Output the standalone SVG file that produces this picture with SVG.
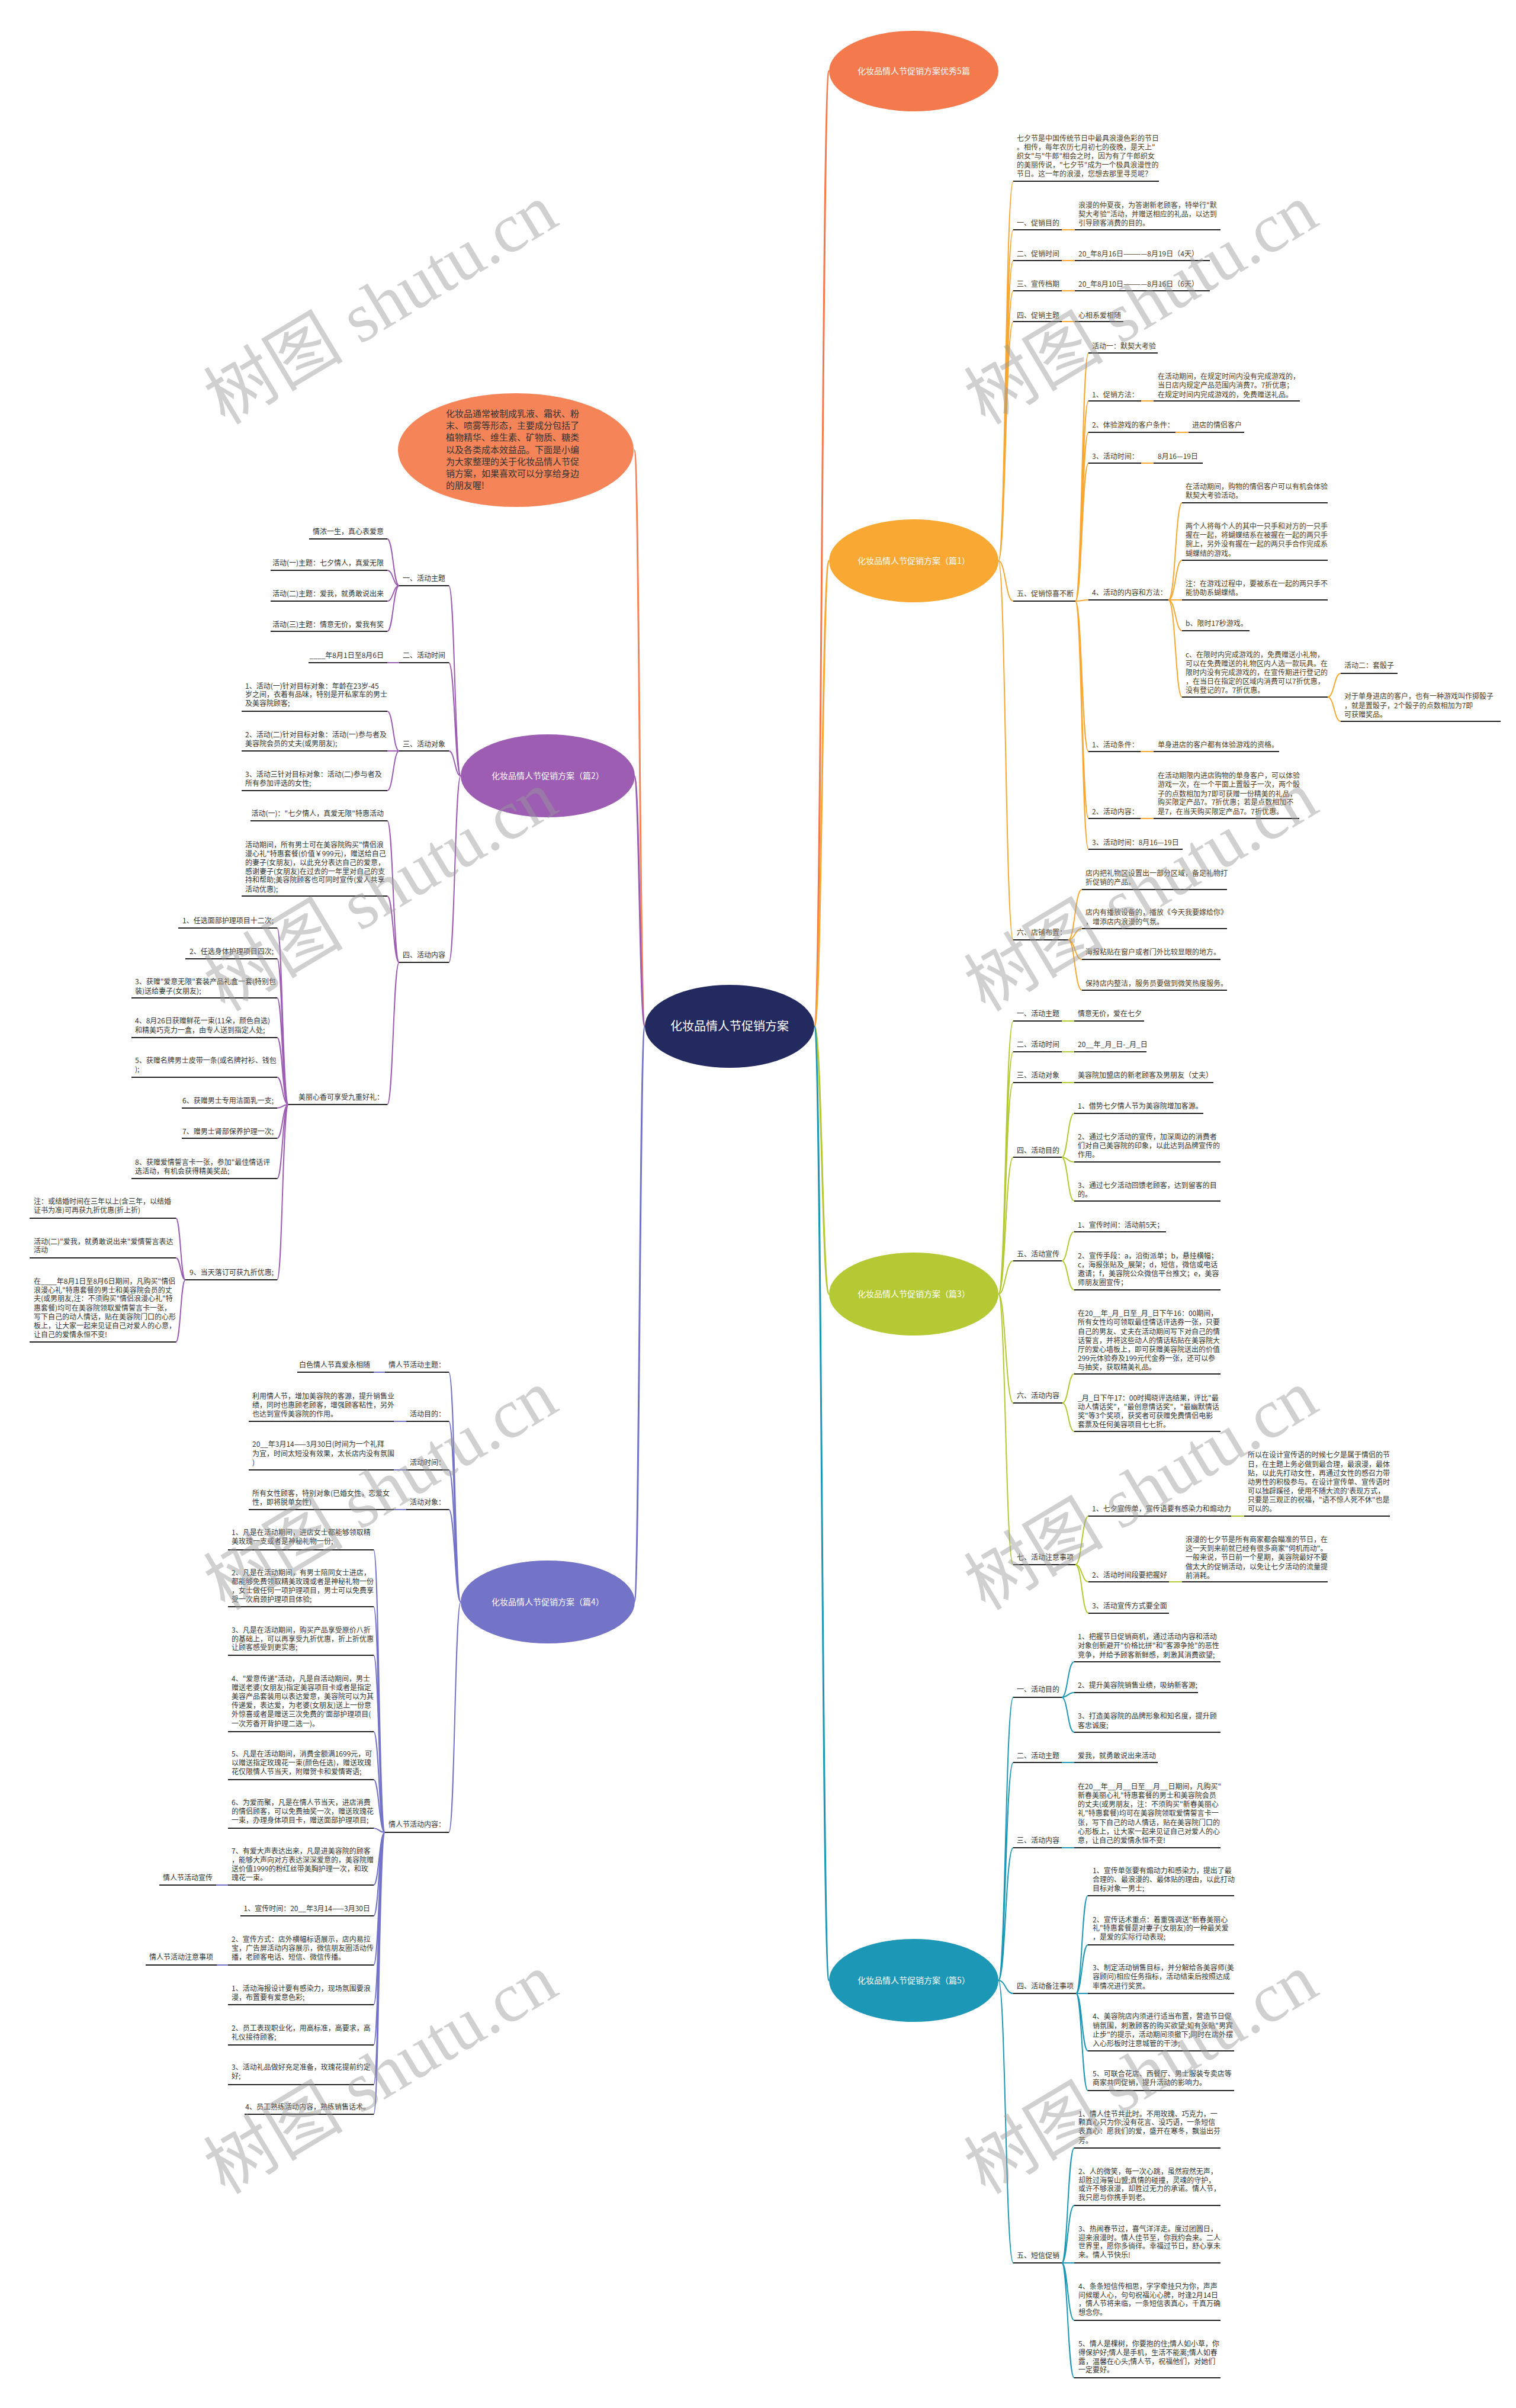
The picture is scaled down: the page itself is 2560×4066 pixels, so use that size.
<svg xmlns="http://www.w3.org/2000/svg" width="2560" height="4066" viewBox="0 0 2560 4066">
<style>
text{font-family:"Noto Sans CJK SC","Noto Sans",sans-serif}
.t{font-size:12px;fill:#333}
.y{fill:#4d3b1f}
.e{text-anchor:end}
.u{stroke:#222;stroke-width:2;fill:none}
.c{fill:none;stroke-width:2}
.rc{fill:none;stroke-width:3}
.o{stroke:#F8A832}
.g{stroke:#B5C934}
.b{stroke:#1D97B6}
.p{stroke:#9C5DB3}
.v{stroke:#7373C7}
.r{stroke:#F47A4E}
.q{stroke:#F58459}
.n{font-size:14px;fill:#fff;text-anchor:middle}
.wm{font-family:"Liberation Serif","Noto Sans CJK SC",serif;font-size:118px;fill:#999;opacity:.45;text-anchor:middle}
</style>
<rect width="2560" height="4066" fill="#fff"/>
<g id="connectors">
<path class="rc q" d="M1089 1733C1080 1733 1080 760 1071 760"/>
<path class="rc p" d="M1089 1733C1080 1733 1080 1310 1071 1310"/>
<path class="rc v" d="M1089 1733C1080 1733 1080 2705 1071 2705"/>
<path class="rc r" d="M1375 1733C1388 1733 1388 120 1400 120"/>
<path class="rc o" d="M1375 1733C1388 1733 1388 947 1400 947"/>
<path class="rc g" d="M1375 1733C1388 1733 1388 2185 1400 2185"/>
<path class="rc b" d="M1375 1733C1388 1733 1388 3344 1400 3344"/>
<path class="c o" d="M1686 947C1698 947 1698 306 1711 306M1686 947C1698 947 1698 388 1711 388M1686 947C1698 947 1698 440 1711 440M1686 947C1698 947 1698 491 1711 491M1686 947C1698 947 1698 543 1711 543M1686 947C1698 947 1698 1015 1711 1015M1686 947C1698 947 1698 1587 1711 1587M1793 388H1815M1793 440H1815M1793 491H1815M1793 543H1815M1816 1015C1827 1015 1827 596 1838 596M1816 1015C1827 1015 1827 677 1838 677M1816 1015C1827 1015 1827 730 1838 730M1816 1015C1827 1015 1827 782 1838 782M1816 1015C1827 1015 1827 1013 1838 1013M1816 1015C1827 1015 1827 1269 1838 1269M1816 1015C1827 1015 1827 1382 1838 1382M1816 1015C1827 1015 1827 1434 1838 1434M1927 677H1948M1985 730H2007M1927 782H1948M1926 1269H1948M1926 1382H1948M1973 1013C1985 1013 1985 849 1996 849M1973 1013C1985 1013 1985 946 1996 946M1973 1013H1996M1973 1013C1985 1013 1985 1065 1996 1065M1973 1013C1985 1013 1985 1177 1996 1177M2242 1177C2253 1177 2253 1137 2264 1137M2242 1177C2253 1177 2253 1218 2264 1218M1804 1587C1815 1587 1815 1502 1827 1502M1804 1587C1815 1587 1815 1568 1827 1568M1804 1587C1815 1587 1815 1620 1827 1620M1804 1587C1815 1587 1815 1672 1827 1672"/>
<path class="c g" d="M1686 2185C1698 2185 1698 1724 1711 1724M1686 2185C1698 2185 1698 1776 1711 1776M1686 2185C1698 2185 1698 1828 1711 1828M1686 2185C1698 2185 1698 1954 1711 1954M1686 2185C1698 2185 1698 2129 1711 2129M1686 2185C1698 2185 1698 2369 1711 2369M1686 2185C1698 2185 1698 2642 1711 2642M1793 1724H1814M1793 1776H1814M1793 1828H1814M1793 1954C1803 1954 1803 1880 1814 1880M1793 1954C1803 1954 1803 1962 1814 1962M1793 1954C1803 1954 1803 2028 1814 2028M1793 2129C1803 2129 1803 2080 1814 2080M1793 2129C1803 2129 1803 2178 1814 2178M1794 2369C1804 2369 1804 2320 1814 2320M1794 2369C1804 2369 1804 2417 1814 2417M1816 2642C1827 2642 1827 2560 1838 2560M1816 2642C1827 2642 1827 2671 1838 2671M1816 2642C1827 2642 1827 2724 1838 2724M2079 2560H2101M1974 2671H1996"/>
<path class="c b" d="M1686 3344C1698 3344 1698 2866 1711 2866M1686 3344C1698 3344 1698 2976 1711 2976M1686 3344C1698 3344 1698 3120 1711 3120M1686 3344C1698 3344 1698 3366 1711 3366M1686 3344C1698 3344 1698 3821 1711 3821M1793 2866C1803 2866 1803 2806 1814 2806M1793 2866C1803 2866 1803 2858 1814 2858M1793 2866C1803 2866 1803 2925 1814 2925M1793 2976H1814M1793 3120H1814M1817 3366C1827 3366 1827 3201 1837 3201M1817 3366C1827 3366 1827 3284 1837 3284M1817 3366H1837M1817 3366C1827 3366 1827 3463 1837 3463M1817 3366C1827 3366 1827 3530 1837 3530M1793 3821C1803 3821 1803 3627 1814 3627M1793 3821C1803 3821 1803 3724 1814 3724M1793 3821H1814M1793 3821C1803 3821 1803 3918 1814 3918M1793 3821C1803 3821 1803 4015 1814 4015"/>
<path class="c p" d="M778 1310C768 1310 768 989 758 989M778 1310C768 1310 768 1119 758 1119M778 1310C768 1310 768 1268 758 1268M778 1310C768 1310 768 1625 758 1625M674 989C664 989 664 910 654 910M674 989C664 989 664 963 654 963M674 989C664 989 664 1015 654 1015M674 989C664 989 664 1066 654 1066M654 1119H674M674 1268C664 1268 664 1201 654 1201M674 1268H654M674 1268C664 1268 664 1335 654 1335M674 1625C664 1625 664 1386 654 1386M674 1625C664 1625 664 1513 654 1513M674 1625C664 1625 664 1865 654 1865M487 1865C477 1865 477 1567 468 1567M487 1865C477 1865 477 1619 468 1619M487 1865C477 1865 477 1685 468 1685M487 1865C477 1865 477 1752 468 1752M487 1865C477 1865 477 1819 468 1819M487 1865C477 1865 477 1871 468 1871M487 1865C477 1865 477 1922 468 1922M487 1865C477 1865 477 1990 468 1990M487 1865C477 1865 477 2161 468 2161M313 2161C305 2161 305 2057 297 2057M313 2161C305 2161 305 2124 297 2124M313 2161C305 2161 305 2266 297 2266"/>
<path class="c v" d="M778 2705C768 2705 768 2317 758 2317M778 2705C768 2705 768 2400 758 2400M778 2705C768 2705 768 2482 758 2482M778 2705C768 2705 768 2549 758 2549M778 2705C768 2705 768 3094 758 3094M631 2317H650M665 2400H686M665 2482H686M665 2549H686M650 3094C640 3094 640 2617 631 2617M650 3094C640 3094 640 2713 631 2713M650 3094C640 3094 640 2795 631 2795M650 3094C640 3094 640 2924 631 2924M650 3094C640 3094 640 3005 631 3005M650 3094C640 3094 640 3087 631 3087M650 3094C640 3094 640 3183 631 3183M650 3094C640 3094 640 3235 631 3235M650 3094C640 3094 640 3318 631 3318M650 3094C640 3094 640 3385 631 3385M650 3094C640 3094 640 3453 631 3453M650 3094C640 3094 640 3520 631 3520M650 3094C640 3094 640 3570 631 3570M365 3183H385M366 3318H385"/>
</g>
<g id="root"><ellipse cx="1232" cy="1733" rx="143" ry="70" fill="#222a5f"/><text class="n" x="1232" y="1740" style="font-size:20px">化妆品情人节促销方案</text></g>
<g id="top"><ellipse cx="1543" cy="120" rx="143" ry="68" fill="#F47A4E"/><text class="n" x="1543" y="125">化妆品情人节促销方案优秀5篇</text></g>
<g id="p1"><ellipse cx="1543" cy="947" rx="143" ry="70" fill="#F9A933"/><text class="n" x="1543" y="952">化妆品情人节促销方案（篇1）</text></g>
<g id="p2"><ellipse cx="925" cy="1310" rx="147" ry="70" fill="#9C5DB3"/><text class="n" x="925" y="1315">化妆品情人节促销方案（篇2）</text></g>
<g id="p3"><ellipse cx="1543" cy="2185" rx="143" ry="70" fill="#B5C934"/><text class="n" x="1543" y="2190">化妆品情人节促销方案（篇3）</text></g>
<g id="p4"><ellipse cx="925" cy="2705" rx="147" ry="70" fill="#7373C7"/><text class="n" x="925" y="2710">化妆品情人节促销方案（篇4）</text></g>
<g id="p5"><ellipse cx="1543" cy="3344" rx="143" ry="70" fill="#1D97B6"/><text class="n" x="1543" y="3349">化妆品情人节促销方案（篇5）</text></g>
<g id="bubble"><ellipse cx="871" cy="760" rx="199" ry="96" fill="#F58459"/><text style="font-size:15px;fill:#333"><tspan x="753" y="704">化妆品通常被制成乳液、霜状、粉</tspan><tspan x="753" y="724">末、喷雾等形态，主要成分包括了</tspan><tspan x="753" y="744">植物精华、维生素、矿物质、糖类</tspan><tspan x="753" y="765">以及各类成本效益品。下面是小编</tspan><tspan x="753" y="785">为大家整理的关于化妆品情人节促</tspan><tspan x="753" y="805">销方案，如果喜欢可以分享给身边</tspan><tspan x="753" y="825">的朋友喔!</tspan></text></g>

<g id="n1-intro"><text class="t y"><tspan x="1717" y="237.5">七夕节是中国传统节日中最具浪漫色彩的节日</tspan><tspan x="1717" y="252.5">。相传，每年农历七月初七的夜晚，是天上"</tspan><tspan x="1717" y="267.5">织女"与"牛郎"相会之时，因为有了牛郎织女</tspan><tspan x="1717" y="282.5">的美丽传说，"七夕节"成为一个极具浪漫性的</tspan><tspan x="1717" y="297.5">节日。这一年的浪漫，您想去那里寻觅呢？</tspan></text><path class="u" d="M1711 306H1957"/></g>
<g id="n1-a"><text class="t y" x="1717" y="380.5">一、促销目的</text><path class="u" d="M1711 388H1793"/></g>
<g id="n1-a1"><text class="t y"><tspan x="1821" y="350.5">浪漫的仲夏夜，为答谢新老顾客，特举行"默</tspan><tspan x="1821" y="365.5">契大考验"活动，并赠送相应的礼品，以达到</tspan><tspan x="1821" y="380.5">引导顾客消费的目的。</tspan></text><path class="u" d="M1815 388H2061"/></g>
<g id="n1-b"><text class="t y" x="1717" y="432.5">二、促销时间</text><path class="u" d="M1711 440H1793"/></g>
<g id="n1-b1"><text class="t y" x="1821" y="432.5">20_年8月16日————8月19日（4天）</text><path class="u" d="M1815 440H2043"/></g>
<g id="n1-c"><text class="t y" x="1717" y="483.5">三、宣传档期</text><path class="u" d="M1711 491H1793"/></g>
<g id="n1-c1"><text class="t y" x="1821" y="483.5">20_年8月10日————8月16日（6天）</text><path class="u" d="M1815 491H2043"/></g>
<g id="n1-d"><text class="t y" x="1717" y="536.5">四、促销主题</text><path class="u" d="M1711 543H1793"/></g>
<g id="n1-d1"><text class="t y" x="1821" y="536.5">心相系爱相随</text><path class="u" d="M1815 543H1897"/></g>
<g id="n1-e"><text class="t y" x="1717" y="1006.5">五、促销惊喜不断</text><path class="u" d="M1711 1015H1816"/></g>
<g id="n1-e1"><text class="t y" x="1844" y="588.5">活动一：默契大考验</text><path class="u" d="M1838 596H1955"/></g>
<g id="n1-e2"><text class="t y" x="1844" y="670.5">1、促销方法：</text><path class="u" d="M1838 677H1927"/></g>
<g id="n1-e2a"><text class="t y"><tspan x="1955" y="639.5">在活动期间，在规定时间内没有完成游戏的，</tspan><tspan x="1955" y="654.5">当日店内规定产品范围内消费7。7折优惠；</tspan><tspan x="1955" y="670.5">在规定时间内完成游戏的，免费赠送礼品。</tspan></text><path class="u" d="M1948 677H2195"/></g>
<g id="n1-e3"><text class="t y" x="1844" y="721.5">2、体验游戏的客户条件：</text><path class="u" d="M1838 730H1985"/></g>
<g id="n1-e3a"><text class="t y" x="2013" y="721.5">进店的情侣客户</text><path class="u" d="M2007 730H2101"/></g>
<g id="n1-e4"><text class="t y" x="1844" y="774.5">3、活动时间：</text><path class="u" d="M1838 782H1927"/></g>
<g id="n1-e4a"><text class="t y" x="1955" y="774.5">8月16—19日</text><path class="u" d="M1948 782H2031"/></g>
<g id="n1-e5"><text class="t y" x="1844" y="1004.5">4、活动的内容和方法：</text><path class="u" d="M1838 1013H1973"/></g>
<g id="n1-e5a"><text class="t y"><tspan x="2002" y="825.5">在活动期间，购物的情侣客户可以有机会体验</tspan><tspan x="2002" y="840.5">默契大考验活动。</tspan></text><path class="u" d="M1996 849H2242"/></g>
<g id="n1-e5b"><text class="t y"><tspan x="2002" y="892.5">两个人将每个人的其中一只手和对方的一只手</tspan><tspan x="2002" y="907.5">握在一起，将蝴蝶结系在被握在一起的两只手</tspan><tspan x="2002" y="922.5">腕上，另外没有握在一起的两只手合作完成系</tspan><tspan x="2002" y="938.5">蝴蝶结的游戏。</tspan></text><path class="u" d="M1996 946H2242"/></g>
<g id="n1-e5c"><text class="t y"><tspan x="2002" y="989.5">注：在游戏过程中，要被系在一起的两只手不</tspan><tspan x="2002" y="1004.5">能协助系蝴蝶结。</tspan></text><path class="u" d="M1996 1013H2242"/></g>
<g id="n1-e5d"><text class="t y" x="2002" y="1056.5">b、限时17秒游戏。</text><path class="u" d="M1996 1065H2110"/></g>
<g id="n1-e5e"><text class="t y"><tspan x="2002" y="1109.5">c、在限时内完成游戏的，免费赠送小礼物，</tspan><tspan x="2002" y="1124.5">可以在免费赠送的礼物区内人选一款玩具。在</tspan><tspan x="2002" y="1139.5">限时内没有完成游戏的，在宣传期进行登记的</tspan><tspan x="2002" y="1154.5">，在当日在指定的区域内消费可以7折优惠，</tspan><tspan x="2002" y="1169.5">没有登记的7。7折优惠。</tspan></text><path class="u" d="M1996 1177H2242"/></g>
<g id="n1-e5e1"><text class="t y" x="2270" y="1127.5">活动二：套骰子</text><path class="u" d="M2264 1137H2360"/></g>
<g id="n1-e5e2"><text class="t y"><tspan x="2270" y="1179.5">对于单身进店的客户，也有一种游戏叫作掷骰子</tspan><tspan x="2270" y="1195.5">，就是置骰子，2个骰子的点数相加为7即</tspan><tspan x="2270" y="1210.5">可获赠奖品。</tspan></text><path class="u" d="M2264 1218H2534"/></g>
<g id="n1-e6"><text class="t y" x="1844" y="1261.5">1、活动条件：</text><path class="u" d="M1838 1269H1926"/></g>
<g id="n1-e6a"><text class="t y" x="1955" y="1261.5">单身进店的客户都有体验游戏的资格。</text><path class="u" d="M1948 1269H2160"/></g>
<g id="n1-e7"><text class="t y" x="1844" y="1374.5">2、活动内容：</text><path class="u" d="M1838 1382H1926"/></g>
<g id="n1-e7a"><text class="t y"><tspan x="1955" y="1313.5">在活动期限内进店购物的单身客户，可以体验</tspan><tspan x="1955" y="1328.5">游戏一次，在一个平面上置骰子一次，两个骰</tspan><tspan x="1955" y="1344.5">子的点数相加为7即可获赠一份精美的礼品，</tspan><tspan x="1955" y="1358.5">购买限定产品7。7折优惠；若是点数相加不</tspan><tspan x="1955" y="1374.5">是7，在当天购买限定产品7。7折优惠。</tspan></text><path class="u" d="M1948 1382H2194"/></g>
<g id="n1-e8"><text class="t y" x="1844" y="1426.5">3、活动时间：8月16—19日</text><path class="u" d="M1838 1434H1997"/></g>
<g id="n1-f"><text class="t y" x="1717" y="1578.5">六、店铺布置：</text><path class="u" d="M1711 1587H1804"/></g>
<g id="n1-f1"><text class="t y"><tspan x="1833" y="1478.5">店内把礼物区设置出一部分区域，备足礼物打</tspan><tspan x="1833" y="1493.5">折促销的产品。</tspan></text><path class="u" d="M1827 1502H2072"/></g>
<g id="n1-f2"><text class="t y"><tspan x="1833" y="1544.5">店内有播放设备的，播放《今天我要嫁给你》</tspan><tspan x="1833" y="1560.5">，增添店内浪漫的气氛。</tspan></text><path class="u" d="M1827 1568H2072"/></g>
<g id="n1-f3"><text class="t y" x="1833" y="1611.5">海报粘贴在窗户或者门外比较显眼的地方。</text><path class="u" d="M1827 1620H2061"/></g>
<g id="n1-f4"><text class="t y" x="1833" y="1664.5">保持店内整洁，服务员要做到微笑热度服务。</text><path class="u" d="M1827 1672H2072"/></g>

<g id="n3-a"><text class="t" x="1717" y="1715.5">一、活动主题</text><path class="u" d="M1711 1724H1793"/></g>
<g id="n3-a1"><text class="t" x="1820" y="1715.5">情意无价，爱在七夕</text><path class="u" d="M1814 1724H1932"/></g>
<g id="n3-b"><text class="t" x="1717" y="1767.5">二、活动时间</text><path class="u" d="M1711 1776H1793"/></g>
<g id="n3-b1"><text class="t" x="1820" y="1767.5">20__年_月_日-_月_日</text><path class="u" d="M1814 1776H1936"/></g>
<g id="n3-c"><text class="t" x="1717" y="1819.5">三、活动对象</text><path class="u" d="M1711 1828H1793"/></g>
<g id="n3-c1"><text class="t" x="1820" y="1819.5">美容院加盟店的新老顾客及男朋友（丈夫）</text><path class="u" d="M1814 1828H2049"/></g>
<g id="n3-d"><text class="t" x="1717" y="1946.5">四、活动目的</text><path class="u" d="M1711 1954H1793"/></g>
<g id="n3-d1"><text class="t" x="1820" y="1871.5">1、借势七夕情人节为美容院增加客源。</text><path class="u" d="M1814 1880H2032"/></g>
<g id="n3-d2"><text class="t"><tspan x="1820" y="1923.5">2、通过七夕活动的宣传，加深周边的消费者</tspan><tspan x="1820" y="1938.5">们对自己美容院的印象，以此达到品牌宣传的</tspan><tspan x="1820" y="1953.5">作用。</tspan></text><path class="u" d="M1814 1962H2061"/></g>
<g id="n3-d3"><text class="t"><tspan x="1820" y="2005.5">3、通过七夕活动回馈老顾客，达到留客的目</tspan><tspan x="1820" y="2020.5">的。</tspan></text><path class="u" d="M1814 2028H2061"/></g>
<g id="n3-e"><text class="t" x="1717" y="2121.5">五、活动宣传</text><path class="u" d="M1711 2129H1793"/></g>
<g id="n3-e1"><text class="t" x="1820" y="2072.5">1、宣传时间：活动前5天；</text><path class="u" d="M1814 2080H1969"/></g>
<g id="n3-e2"><text class="t"><tspan x="1820" y="2124.5">2、宣传手段：a，沿街派单；b，悬挂横幅；</tspan><tspan x="1820" y="2139.5">c，海报张贴及_展架；d，短信，微信或电话</tspan><tspan x="1820" y="2154.5">邀请；f，美容院公众微信平台推文；e，美容</tspan><tspan x="1820" y="2169.5">师朋友圈宣传；</tspan></text><path class="u" d="M1814 2178H2061"/></g>
<g id="n3-f"><text class="t" x="1717" y="2360.5">六、活动内容</text><path class="u" d="M1711 2369H1794"/></g>
<g id="n3-f1"><text class="t"><tspan x="1820" y="2221.5">在20__年_月_日至_月_日下午16：00期间，</tspan><tspan x="1820" y="2236.5">所有女性均可领取最佳情话评选券一张，只要</tspan><tspan x="1820" y="2252.5">自己的男友、丈夫在活动期间写下对自己的情</tspan><tspan x="1820" y="2267.5">话誓言，并将这些动人的情话粘贴在美容院大</tspan><tspan x="1820" y="2282.5">厅的爱心墙板上，即可获赠美容院送出的价值</tspan><tspan x="1820" y="2297.5">299元体验券及199元代金券一张，还可以参</tspan><tspan x="1820" y="2312.5">与抽奖，获取精美礼品。</tspan></text><path class="u" d="M1814 2320H2061"/></g>
<g id="n3-f2"><text class="t"><tspan x="1820" y="2364.5">_月_日下午17：00时揭晓评选结果，评比"最</tspan><tspan x="1820" y="2379.5">动人情话奖"，"最创意情话奖"，"最幽默情话</tspan><tspan x="1820" y="2394.5">奖"等3个奖项，获奖者可获赠免费情侣电影</tspan><tspan x="1820" y="2409.5">套票及任何美容项目七七折。</tspan></text><path class="u" d="M1814 2417H2061"/></g>
<g id="n3-g"><text class="t" x="1717" y="2633.5">七、活动注意事项</text><path class="u" d="M1711 2642H1816"/></g>
<g id="n3-g1"><text class="t" x="1844" y="2551.5">1、七夕宣传单，宣传语要有感染力和煽动力</text><path class="u" d="M1838 2560H2079"/></g>
<g id="n3-g1a"><text class="t"><tspan x="2107" y="2460.5">所以在设计宣传语的时候七夕是属于情侣的节</tspan><tspan x="2107" y="2476.5">日，在主题上务必做到最合理，最浪漫，最体</tspan><tspan x="2107" y="2491.5">贴，以此先打动女性，再通过女性的感召力带</tspan><tspan x="2107" y="2506.5">动男性的积极参与。在设计宣传单、宣传语时</tspan><tspan x="2107" y="2521.5">可以独辟蹊径，使用不随大流的'表现方式，</tspan><tspan x="2107" y="2536.5">只要是三观正的祝福，"语不惊人死不休"也是</tspan><tspan x="2107" y="2551.5">可以的。</tspan></text><path class="u" d="M2101 2560H2347"/></g>
<g id="n3-g2"><text class="t" x="1844" y="2663.5">2、活动时间段要把握好</text><path class="u" d="M1838 2671H1974"/></g>
<g id="n3-g2a"><text class="t"><tspan x="2002" y="2603.5">浪漫的七夕节是所有商家都会瞄准的节日，在</tspan><tspan x="2002" y="2618.5">这一天到来前就已经有很多商家"伺机而动"。</tspan><tspan x="2002" y="2633.5">一般来说，节日前一个星期，美容院最好不要</tspan><tspan x="2002" y="2649.5">做太大的促销活动，以免让七夕活动的流量提</tspan><tspan x="2002" y="2664.5">前消耗。</tspan></text><path class="u" d="M1996 2671H2242"/></g>
<g id="n3-g3"><text class="t" x="1844" y="2715.5">3、活动宣传方式要全面</text><path class="u" d="M1838 2724H1974"/></g>

<g id="n5-a"><text class="t" x="1717" y="2856.5">一、活动目的</text><path class="u" d="M1711 2866H1793"/></g>
<g id="n5-a1"><text class="t"><tspan x="1820" y="2767.5">1、把握节日促销商机，通过活动内容和活动</tspan><tspan x="1820" y="2782.5">对象创新避开"价格比拼"和"客源争抢"的恶性</tspan><tspan x="1820" y="2798.5">竞争，并给予顾客新鲜感，刺激其消费欲望;</tspan></text><path class="u" d="M1814 2806H2061"/></g>
<g id="n5-a2"><text class="t" x="1820" y="2849.5">2、提升美容院销售业绩，吸纳新客源;</text><path class="u" d="M1814 2858H2023"/></g>
<g id="n5-a3"><text class="t"><tspan x="1820" y="2901.5">3、打造美容院的品牌形象和知名度，提升顾</tspan><tspan x="1820" y="2917.5">客忠诚度;</tspan></text><path class="u" d="M1814 2925H2061"/></g>
<g id="n5-b"><text class="t" x="1717" y="2968.5">二、活动主题</text><path class="u" d="M1711 2976H1793"/></g>
<g id="n5-b1"><text class="t" x="1820" y="2968.5">爱我，就勇敢说出来活动</text><path class="u" d="M1814 2976H1955"/></g>
<g id="n5-c"><text class="t" x="1717" y="3111.5">三、活动内容</text><path class="u" d="M1711 3120H1793"/></g>
<g id="n5-c1"><text class="t"><tspan x="1820" y="3020.5">在20__年__月__日至__月__日期间，凡购买"</tspan><tspan x="1820" y="3035.5">新春美丽心礼"特惠套餐的男士和美容院会员</tspan><tspan x="1820" y="3050.5">的丈夫(或男朋友，注：不须购买"新春美丽心</tspan><tspan x="1820" y="3065.5">礼"特惠套餐)均可在美容院领取爱情誓言卡一</tspan><tspan x="1820" y="3081.5">张，写下自己的动人情话，贴在美容院门口的</tspan><tspan x="1820" y="3096.5">心形板上，让大家一起来见证自己对爱人的心</tspan><tspan x="1820" y="3111.5">意，让自己的爱情永恒不变!</tspan></text><path class="u" d="M1814 3120H2061"/></g>
<g id="n5-d"><text class="t" x="1717" y="3357.5">四、活动备注事项</text><path class="u" d="M1711 3366H1817"/></g>
<g id="n5-d1"><text class="t"><tspan x="1845" y="3162.5">1、宣传单张要有煽动力和感染力，提出了最</tspan><tspan x="1845" y="3177.5">合理的、最浪漫的、最体贴的理由，以此打动</tspan><tspan x="1845" y="3192.5">目标对象一男士;</tspan></text><path class="u" d="M1837 3201H2084"/></g>
<g id="n5-d2"><text class="t"><tspan x="1845" y="3245.5">2、宣传话术重点：着重强调送"新春美丽心</tspan><tspan x="1845" y="3259.5">礼"特惠套餐是对妻子(女朋友)的一种最关爱</tspan><tspan x="1845" y="3274.5">，是爱的实际行动表现;</tspan></text><path class="u" d="M1837 3284H2084"/></g>
<g id="n5-d3"><text class="t"><tspan x="1845" y="3326.5">3、制定活动销售目标，并分解给各美容师(美</tspan><tspan x="1845" y="3341.5">容顾问)相应任务指标，活动结束后按照达成</tspan><tspan x="1845" y="3357.5">率情况进行奖赏。</tspan></text><path class="u" d="M1837 3366H2084"/></g>
<g id="n5-d4"><text class="t"><tspan x="1845" y="3408.5">4、美容院店内须进行适当布置，营造节日促</tspan><tspan x="1845" y="3424.5">销氛围，刺激顾客的购买欲望;如有张贴"男宾</tspan><tspan x="1845" y="3439.5">止步"的提示，活动期间须撤下;同时在店外摆</tspan><tspan x="1845" y="3454.5">入心形板时注意城管的干涉;</tspan></text><path class="u" d="M1837 3463H2084"/></g>
<g id="n5-d5"><text class="t"><tspan x="1845" y="3505.5">5、可联合花店、西餐厅、男士服装专卖店等</tspan><tspan x="1845" y="3520.5">商家共同促销，提升活动的影响力。</tspan></text><path class="u" d="M1837 3530H2084"/></g>
<g id="n5-e"><text class="t" x="1717" y="3812.5">五、短信促销</text><path class="u" d="M1711 3821H1793"/></g>
<g id="n5-e1"><text class="t"><tspan x="1821" y="3573.5">1、情人佳节共此时。不用玫瑰、巧克力，一</tspan><tspan x="1821" y="3587.5">颗真心只为你;没有花言、没巧语，一条短信</tspan><tspan x="1821" y="3602.5">表真心：愿我们的爱，盛开在寒冬，飘溢出芬</tspan><tspan x="1821" y="3618.5">芳。</tspan></text><path class="u" d="M1814 3627H2061"/></g>
<g id="n5-e2"><text class="t"><tspan x="1821" y="3670.5">2、人的微笑，每一次心跳，虽然寂然无声，</tspan><tspan x="1821" y="3685.5">却胜过海誓山盟;真情的碰撞，灵魂的守护，</tspan><tspan x="1821" y="3699.5">或许不够浪漫，却胜过无力的承诺。情人节，</tspan><tspan x="1821" y="3714.5">我只愿与你携手到老。</tspan></text><path class="u" d="M1814 3724H2061"/></g>
<g id="n5-e3"><text class="t"><tspan x="1821" y="3767.5">3、热闹春节过，喜气洋洋走。度过团圆日，</tspan><tspan x="1821" y="3782.5">迎来浪漫时。情人佳节至，你我约会来。二人</tspan><tspan x="1821" y="3796.5">世界里，愿你多徜徉。幸福过节日，舒心享未</tspan><tspan x="1821" y="3811.5">来。情人节快乐!</tspan></text><path class="u" d="M1814 3821H2061"/></g>
<g id="n5-e4"><text class="t"><tspan x="1821" y="3864.5">4、条条短信传相思，字字牵挂只为你，声声</tspan><tspan x="1821" y="3879.5">问候暖人心，句句祝福沁心脾，时逢2月14日</tspan><tspan x="1821" y="3893.5">，情人节将来临，一条短信表真心，千真万确</tspan><tspan x="1821" y="3908.5">想念你。</tspan></text><path class="u" d="M1814 3918H2061"/></g>
<g id="n5-e5"><text class="t"><tspan x="1821" y="3961.5">5、情人是棵树，你要抱的住;情人如小草，你</tspan><tspan x="1821" y="3976.5">得保护好;情人是手机，生活不能离;情人如春</tspan><tspan x="1821" y="3991.5">露，温馨在心头;情人节，祝福他们，对她们</tspan><tspan x="1821" y="4005.5">一定要好。</tspan></text><path class="u" d="M1814 4015H2061"/></g>

<g id="n2-a"><text class="t e" x="752" y="980.5">一、活动主题</text><path class="u" d="M674 989H758"/></g>
<g id="n2-a1"><text class="t e" x="648" y="901.5">情浓一生，真心表爱意</text><path class="u" d="M522 910H654"/></g>
<g id="n2-a2"><text class="t e" x="648" y="954.5">活动(一)主题：七夕情人，真爱无限</text><path class="u" d="M457 963H654"/></g>
<g id="n2-a3"><text class="t e" x="648" y="1006.5">活动(二)主题：爱我，就勇敢说出来</text><path class="u" d="M457 1015H654"/></g>
<g id="n2-a4"><text class="t e" x="648" y="1058.5">活动(三)主题：情意无价，爱我有奖</text><path class="u" d="M457 1066H654"/></g>
<g id="n2-b"><text class="t e" x="752" y="1110.5">二、活动时间</text><path class="u" d="M674 1119H758"/></g>
<g id="n2-b1"><text class="t e" x="648" y="1110.5">____年8月1日至8月6日</text><path class="u" d="M521 1119H654"/></g>
<g id="n2-c"><text class="t e" x="752" y="1260.5">三、活动对象</text><path class="u" d="M674 1268H758"/></g>
<g id="n2-c1"><text class="t"><tspan x="414" y="1162.5">1、活动(一)针对目标对象：年龄在23岁-45</tspan><tspan x="414" y="1176.5">岁之间，衣着有品味，特别是开私家车的男士</tspan><tspan x="414" y="1191.5">及美容院顾客;</tspan></text><path class="u" d="M408 1201H654"/></g>
<g id="n2-c2"><text class="t"><tspan x="414" y="1244.5">2、活动(二)针对目标对象：活动(一)参与者及</tspan><tspan x="414" y="1259.5">美容院会员的丈夫(或男朋友);</tspan></text><path class="u" d="M408 1268H654"/></g>
<g id="n2-c3"><text class="t"><tspan x="414" y="1311.5">3、活动三针对目标对象：活动(二)参与者及</tspan><tspan x="414" y="1326.5">所有参加评选的女性;</tspan></text><path class="u" d="M408 1335H654"/></g>
<g id="n2-d"><text class="t e" x="752" y="1616.5">四、活动内容</text><path class="u" d="M674 1625H758"/></g>
<g id="n2-d1"><text class="t e" x="648" y="1377.5">活动(一)："七夕情人，真爱无限"特惠活动</text><path class="u" d="M423 1386H654"/></g>
<g id="n2-d2"><text class="t"><tspan x="414" y="1430.5">活动期间，所有男士可在美容院购买"情侣浪</tspan><tspan x="414" y="1445.5">漫心礼"特惠套餐(价值￥999元)，赠送给自己</tspan><tspan x="414" y="1460.5">的妻子(女朋友)，以此充分表达自己的爱意，</tspan><tspan x="414" y="1475.5">感谢妻子(女朋友)在过去的一年里对自己的支</tspan><tspan x="414" y="1489.5">持和帮助;美容院顾客也可同时宣传(爱人共享</tspan><tspan x="414" y="1505.5">活动优惠);</tspan></text><path class="u" d="M408 1513H654"/></g>
<g id="n2-d3"><text class="t e" x="648" y="1856.5">美丽心香可享受九重好礼：</text><path class="u" d="M487 1865H654"/></g>
<g id="n2-d3-1"><text class="t e" x="462" y="1558.5">1、任选面部护理项目十二次;</text><path class="u" d="M301 1567H468"/></g>
<g id="n2-d3-2"><text class="t e" x="462" y="1610.5">2、任选身体护理项目四次;</text><path class="u" d="M313 1619H468"/></g>
<g id="n2-d3-3"><text class="t"><tspan x="228" y="1661.5">3、获赠"爱意无限"套装产品礼盒一套(特别包</tspan><tspan x="228" y="1677.5">装)送给妻子(女朋友);</tspan></text><path class="u" d="M222 1685H468"/></g>
<g id="n2-d3-4"><text class="t"><tspan x="228" y="1727.5">4、8月26日获赠鲜花一束(11朵，颜色自选)</tspan><tspan x="228" y="1743.5">和精美巧克力一盒，由专人送到指定人处;</tspan></text><path class="u" d="M222 1752H468"/></g>
<g id="n2-d3-5"><text class="t"><tspan x="228" y="1794.5">5、获赠名牌男士皮带一条(或名牌衬衫、钱包</tspan><tspan x="228" y="1809.5">);</tspan></text><path class="u" d="M222 1819H468"/></g>
<g id="n2-d3-6"><text class="t e" x="462" y="1862.5">6、获赠男士专用洁面乳一支;</text><path class="u" d="M307 1871H468"/></g>
<g id="n2-d3-7"><text class="t e" x="462" y="1914.5">7、赠男士肾部保养护理一次;</text><path class="u" d="M307 1922H468"/></g>
<g id="n2-d3-8"><text class="t"><tspan x="228" y="1966.5">8、获赠爱情誓言卡一张，参加"最佳情话评</tspan><tspan x="228" y="1981.5">选活动，有机会获得精美奖品;</tspan></text><path class="u" d="M222 1990H468"/></g>
<g id="n2-d3-9"><text class="t e" x="462" y="2152.5">9、当天落订可获九折优惠;</text><path class="u" d="M313 2161H468"/></g>
<g id="n2-d3-9a"><text class="t"><tspan x="57" y="2032.5">注：或结婚时间在三年以上(含三年，以结婚</tspan><tspan x="57" y="2047.5">证书为准)可再获九折优惠(折上折)</tspan></text><path class="u" d="M50 2057H297"/></g>
<g id="n2-d3-9b"><text class="t"><tspan x="57" y="2100.5">活动(二)"爱我，就勇敢说出来"爱情誓言表达</tspan><tspan x="57" y="2114.5">活动</tspan></text><path class="u" d="M50 2124H297"/></g>
<g id="n2-d3-9c"><text class="t"><tspan x="57" y="2167.5">在____年8月1日至8月6日期间，凡购买"情侣</tspan><tspan x="57" y="2182.5">浪漫心礼"特惠套餐的男士和美容院会员的丈</tspan><tspan x="57" y="2196.5">夫(或男朋友,注：不须购买"情侣浪漫心礼"特</tspan><tspan x="57" y="2212.5">惠套餐)均可在美容院领取爱情誓言卡一张，</tspan><tspan x="57" y="2227.5">写下自己的动人情话，贴在美容院门口的心形</tspan><tspan x="57" y="2242.5">板上，让大家一起来见证自己对爱人的心意，</tspan><tspan x="57" y="2257.5">让自己的爱情永恒不变!</tspan></text><path class="u" d="M50 2266H297"/></g>

<g id="n4-a"><text class="t e" x="752" y="2308.5">情人节活动主题：</text><path class="u" d="M650 2317H758"/></g>
<g id="n4-a1"><text class="t e" x="625" y="2308.5">白色情人节真爱永相随</text><path class="u" d="M502 2317H631"/></g>
<g id="n4-b"><text class="t e" x="752" y="2391.5">活动目的：</text><path class="u" d="M686 2400H758"/></g>
<g id="n4-b1"><text class="t"><tspan x="426" y="2361.5">利用情人节，增加美容院的客源，提升销售业</tspan><tspan x="426" y="2376.5">绩，同时也惠顾老顾客，增强顾客粘性，另外</tspan><tspan x="426" y="2391.5">也达到宣传美容院的作用。</tspan></text><path class="u" d="M420 2400H665"/></g>
<g id="n4-c"><text class="t e" x="752" y="2473.5">活动时间：</text><path class="u" d="M686 2482H758"/></g>
<g id="n4-c1"><text class="t"><tspan x="426" y="2442.5">20__年3月14——3月30日(时间为一个礼拜</tspan><tspan x="426" y="2458.5">为宜，时间太短没有效果，太长店内没有氛围</tspan><tspan x="426" y="2473.5">)</tspan></text><path class="u" d="M420 2482H665"/></g>
<g id="n4-d"><text class="t e" x="752" y="2540.5">活动对象：</text><path class="u" d="M686 2549H758"/></g>
<g id="n4-d1"><text class="t"><tspan x="426" y="2525.5">所有女性顾客，特别对象(已婚女性，恋爱女</tspan><tspan x="426" y="2540.5">性，即将脱单女性)</tspan></text><path class="u" d="M420 2549H665"/></g>
<g id="n4-e"><text class="t e" x="752" y="3084.5">情人节活动内容：</text><path class="u" d="M650 3094H758"/></g>
<g id="n4-e1"><text class="t"><tspan x="391" y="2591.5">1、凡是在活动期间，进店女士都能够领取精</tspan><tspan x="391" y="2606.5">美玫瑰一支或者是神秘礼物一份;</tspan></text><path class="u" d="M385 2617H631"/></g>
<g id="n4-e2"><text class="t"><tspan x="391" y="2659.5">2、凡是在活动期间，有男士陪同女士进店，</tspan><tspan x="391" y="2674.5">都能够免费领取精美玫瑰或者是神秘礼物一份</tspan><tspan x="391" y="2689.5">，女士做任何一项护理项目，男士可以免费享</tspan><tspan x="391" y="2704.5">受一次肩颈护理项目体验;</tspan></text><path class="u" d="M385 2713H631"/></g>
<g id="n4-e3"><text class="t"><tspan x="391" y="2756.5">3、凡是在活动期间，购买产品享受原价八折</tspan><tspan x="391" y="2771.5">的基础上，可以再享受九折优惠，折上折优惠</tspan><tspan x="391" y="2785.5">让顾客感受到更实惠;</tspan></text><path class="u" d="M385 2795H631"/></g>
<g id="n4-e4"><text class="t"><tspan x="391" y="2838.5">4、"爱意传递"活动，凡是自活动期间，男士</tspan><tspan x="391" y="2853.5">赠送老婆(女朋友)指定美容项目卡或者是指定</tspan><tspan x="391" y="2868.5">美容产品套装用以表达爱意，美容院可以为其</tspan><tspan x="391" y="2883.5">传递爱，表达爱，为老婆(女朋友)送上一份意</tspan><tspan x="391" y="2898.5">外惊喜或者是赠送三次免费的'面部护理项目(</tspan><tspan x="391" y="2914.5">一次芳香开背护理二选一)。</tspan></text><path class="u" d="M385 2924H631"/></g>
<g id="n4-e5"><text class="t"><tspan x="391" y="2965.5">5、凡是在活动期间，消费金额满1699元，可</tspan><tspan x="391" y="2980.5">以赠送指定玫瑰花一束(颜色任选)，赠送玫瑰</tspan><tspan x="391" y="2995.5">花仅限情人节当天，附赠贺卡和爱情寄语;</tspan></text><path class="u" d="M385 3005H631"/></g>
<g id="n4-e6"><text class="t"><tspan x="391" y="3047.5">6、为爱而聚，凡是在情人节当天，进店消费</tspan><tspan x="391" y="3062.5">的情侣顾客，可以免费抽奖一次，赠送玫瑰花</tspan><tspan x="391" y="3077.5">一束，办理身体项目卡，赠送面部护理项目;</tspan></text><path class="u" d="M385 3087H631"/></g>
<g id="n4-e7"><text class="t"><tspan x="391" y="3129.5">7、有爱大声表达出来，凡是进美容院的顾客</tspan><tspan x="391" y="3144.5">，能够大声向对方表达深深爱意的，美容院赠</tspan><tspan x="391" y="3159.5">送价值1999的粉红丝带美胸护理一次，和玫</tspan><tspan x="391" y="3174.5">瑰花一束。</tspan></text><path class="u" d="M385 3183H631"/></g>
<g id="n4-e7a"><text class="t" x="275" y="3174.5">情人节活动宣传</text><path class="u" d="M269 3183H365"/></g>
<g id="n4-e8"><text class="t e" x="625" y="3226.5">1、宣传时间：20__年3月14——3月30日</text><path class="u" d="M406 3235H631"/></g>
<g id="n4-e9"><text class="t"><tspan x="391" y="3278.5">2、宣传方式：店外横幅标语展示，店内易拉</tspan><tspan x="391" y="3293.5">宝，广告屏活动内容展示，微信朋友圈活动传</tspan><tspan x="391" y="3308.5">播，老顾客电话、短信、微信传播。</tspan></text><path class="u" d="M385 3318H631"/></g>
<g id="n4-e9a"><text class="t" x="252" y="3308.5">情人节活动注意事项</text><path class="u" d="M246 3318H366"/></g>
<g id="n4-e10"><text class="t"><tspan x="391" y="3361.5">1、活动海报设计要有感染力，现场氛围要浪</tspan><tspan x="391" y="3376.5">漫，布置要有爱意色彩;</tspan></text><path class="u" d="M385 3385H631"/></g>
<g id="n4-e11"><text class="t"><tspan x="391" y="3428.5">2、员工表现职业化，用高标准，高要求，高</tspan><tspan x="391" y="3443.5">礼仪接待顾客;</tspan></text><path class="u" d="M385 3453H631"/></g>
<g id="n4-e12"><text class="t"><tspan x="391" y="3494.5">3、活动礼品做好充足准备，玫瑰花提前约定</tspan><tspan x="391" y="3509.5">好;</tspan></text><path class="u" d="M385 3520H631"/></g>
<g id="n4-e13"><text class="t e" x="625" y="3561.5">4、员工熟练活动内容，熟练销售话术。</text><path class="u" d="M413 3570H631"/></g>

<g id="watermarks">
<text class="wm" x="643" y="554" transform="rotate(-31 643 514)">树图 shutu.cn</text>
<text class="wm" x="1927" y="554" transform="rotate(-31 1927 514)">树图 shutu.cn</text>
<text class="wm" x="643" y="1545" transform="rotate(-31 643 1505)">树图 shutu.cn</text>
<text class="wm" x="1927" y="1545" transform="rotate(-31 1927 1505)">树图 shutu.cn</text>
<text class="wm" x="643" y="2556" transform="rotate(-31 643 2516)">树图 shutu.cn</text>
<text class="wm" x="1927" y="2556" transform="rotate(-31 1927 2516)">树图 shutu.cn</text>
<text class="wm" x="643" y="3542" transform="rotate(-31 643 3502)">树图 shutu.cn</text>
<text class="wm" x="1927" y="3542" transform="rotate(-31 1927 3502)">树图 shutu.cn</text>
</g>
</svg>
